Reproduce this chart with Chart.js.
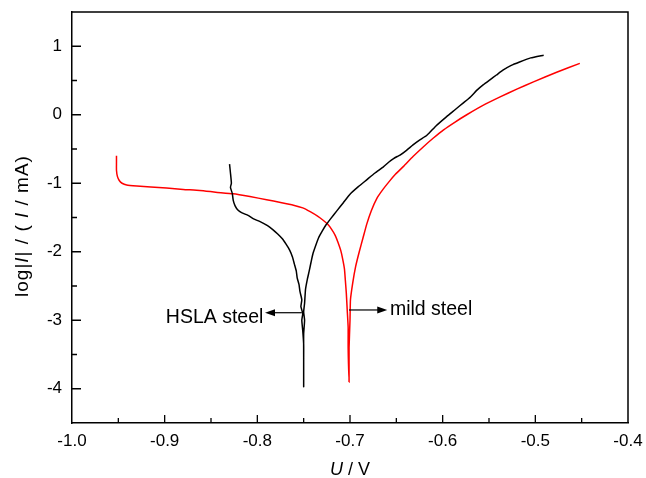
<!DOCTYPE html>
<html>
<head>
<meta charset="utf-8">
<script src="https://cdn.jsdelivr.net/npm/chart.js@4"></script>
<style>
  html, body { margin: 0; padding: 0; background: #fff; }
</style>
</head>
<body>
<canvas id="tafel" width="646" height="478"></canvas>
<script>
// Polarization curves: U in V, log|I| with I in mA
var hslaU = [
  -0.830, -0.829, -0.828, -0.829, -0.827, -0.826, -0.824, -0.821, -0.817, -0.810,
  -0.804, -0.797, -0.789, -0.783, -0.778, -0.773, -0.769, -0.765, -0.762, -0.760,
  -0.758, -0.757, -0.755, -0.754, -0.752, -0.753, -0.751, -0.752, -0.751, -0.750,
  -0.750, -0.750,
  -0.750, -0.750, -0.749, -0.750, -0.749, -0.748, -0.746, -0.744, -0.742, -0.740,
  -0.737, -0.734, -0.730, -0.726, -0.721, -0.714, -0.707, -0.700, -0.691, -0.682,
  -0.673, -0.664, -0.658, -0.653, -0.649, -0.646, -0.639, -0.632, -0.625, -0.617,
  -0.607, -0.596, -0.587, -0.578, -0.570, -0.563, -0.556, -0.549, -0.542, -0.535,
  -0.526, -0.517, -0.505, -0.491
];
var hslaLogI = [
  -0.72, -0.85, -1.00, -1.06, -1.15, -1.25, -1.33, -1.39, -1.43, -1.47,
  -1.52, -1.56, -1.62, -1.68, -1.74, -1.81, -1.89, -1.98, -2.08, -2.18,
  -2.28, -2.38, -2.48, -2.58, -2.70, -2.80, -2.90, -3.00, -3.15, -3.35,
  -3.60, -3.97,
  -3.50, -3.20, -3.00, -2.88, -2.75, -2.55, -2.40, -2.28, -2.15, -2.03,
  -1.91, -1.80, -1.70, -1.61, -1.52, -1.40, -1.28, -1.16, -1.05, -0.95,
  -0.85, -0.76, -0.69, -0.64, -0.61, -0.59, -0.52, -0.44, -0.37, -0.30,
  -0.16, -0.03, 0.07, 0.17, 0.26, 0.36, 0.44, 0.51, 0.58, 0.65,
  0.72, 0.77, 0.83, 0.87
];

var mildU = [
  -0.952, -0.952, -0.952, -0.951, -0.949, -0.946, -0.941, -0.930, -0.915, -0.898,
  -0.880, -0.862, -0.845, -0.826, -0.808, -0.790, -0.775, -0.761, -0.751, -0.743,
  -0.735, -0.729, -0.724, -0.720, -0.716, -0.713, -0.710, -0.708, -0.706, -0.705,
  -0.704, -0.703, -0.702, -0.702, -0.701,
  -0.701, -0.700, -0.6995, -0.697, -0.694, -0.690, -0.686, -0.682, -0.677, -0.671,
  -0.665, -0.658, -0.651, -0.642, -0.632, -0.621, -0.610, -0.599, -0.587, -0.574,
  -0.556, -0.538, -0.520, -0.502, -0.477, -0.452
];
var mildLogI = [
  -0.60, -0.70, -0.81, -0.90, -0.96, -1.00, -1.025, -1.04, -1.055, -1.07,
  -1.09, -1.105, -1.13, -1.155, -1.195, -1.24, -1.28, -1.32, -1.36, -1.415,
  -1.48, -1.54, -1.60, -1.67, -1.76, -1.86, -1.98, -2.10, -2.25, -2.42,
  -2.60, -2.85, -3.10, -3.40, -3.90,
  -3.40, -3.00, -2.70, -2.45, -2.22, -2.00, -1.80, -1.60, -1.40, -1.22,
  -1.10, -0.98, -0.87, -0.75, -0.61, -0.47, -0.34, -0.22, -0.11, 0.00,
  0.14, 0.26, 0.375, 0.48, 0.62, 0.75
];

var uMin = -1.0, uMax = -0.4, uStep = 0.1;
var logMin = -4.5, logMax = 1.5;
var logTicks = [-4, -3, -2, -1, 0, 1];

function toPoints(xs, ys) {
  return xs.map(function (u, i) { return { x: u, y: ys[i] }; });
}

// labels with arrows pointing away from the curves
var notes = [
  { text: 'HSLA steel', from: [-0.752, -2.89], to: [-0.7917, -2.89], at: [-0.7935, -3.045], align: 'right' },
  { text: 'mild steel', from: [-0.7011, -2.85], to: [-0.6598, -2.85], at: [-0.6569, -2.923], align: 'left' }
];

var FONT = '"Liberation Sans", Arial, Helvetica, sans-serif';

function drawPieces(ctx, pieces, size) {
  var w = 0;
  pieces.forEach(function (p) {
    ctx.font = (p[1] ? 'italic ' : '') + size + 'px ' + FONT;
    w += ctx.measureText(p[0]).width;
  });
  var x = -w / 2;
  pieces.forEach(function (p) {
    ctx.font = (p[1] ? 'italic ' : '') + size + 'px ' + FONT;
    ctx.fillText(p[0], x, 0);
    x += ctx.measureText(p[0]).width;
  });
}

var framePlugin = {
  id: 'framePlugin',
  afterDraw: function (chart) {
    var ctx = chart.ctx, a = chart.chartArea;
    var xs = chart.scales.x, ys = chart.scales.y;
    ctx.save();
    ctx.strokeStyle = '#000';
    ctx.fillStyle = '#000';
    ctx.lineWidth = 1.5;
    ctx.beginPath();
    ctx.moveTo(a.left, a.top);
    ctx.lineTo(a.right, a.top);
    ctx.lineTo(a.right, a.bottom);
    ctx.stroke();

    // inward ticks, minor ones halfway
    ctx.lineWidth = 1.3;
    ctx.beginPath();
    var nx = Math.round((uMax - uMin) / (uStep / 2));
    for (var i = 1; i < nx; i++) {
      var px = xs.getPixelForValue(uMin + i * uStep / 2);
      var len = i % 2 === 0 ? 8 : 5;
      ctx.moveTo(px, a.bottom);
      ctx.lineTo(px, a.bottom - len);
    }
    var ny = Math.round((logMax - logMin) / 0.5);
    for (var j = 1; j < ny; j++) {
      var v = logMin + j * 0.5;
      var py = ys.getPixelForValue(v);
      var l2 = Number.isInteger(v) ? 9 : 5;
      ctx.moveTo(a.left, py);
      ctx.lineTo(a.left + l2, py);
    }
    ctx.stroke();

    // axis titles
    ctx.textBaseline = 'alphabetic';
    ctx.textAlign = 'left';
    ctx.save();
    ctx.translate((a.left + a.right) / 2, 475);
    drawPieces(ctx, [['U', true], [' / V', false]], 18);
    ctx.restore();
    ctx.save();
    ctx.translate(28, 226);
    ctx.rotate(-Math.PI / 2);
    ctx.letterSpacing = '1px';
    drawPieces(ctx, [['log|', false], ['I', true], ['| / ( ', false], ['I', true], [' / mA)', false]], 19);
    ctx.restore();

    // annotations
    ctx.lineWidth = 1.2;
    ctx.font = '19.5px ' + FONT;
    notes.forEach(function (n) {
      var x0 = xs.getPixelForValue(n.from[0]), y0 = ys.getPixelForValue(n.from[1]);
      var x1 = xs.getPixelForValue(n.to[0]), y1 = ys.getPixelForValue(n.to[1]);
      var dir = x1 > x0 ? 1 : -1;
      ctx.beginPath();
      ctx.moveTo(x0, y0);
      ctx.lineTo(x1 - dir * 8, y1);
      ctx.stroke();
      ctx.beginPath();
      ctx.moveTo(x1, y1);
      ctx.lineTo(x1 - dir * 10, y1 - 3.5);
      ctx.lineTo(x1 - dir * 10, y1 + 3.5);
      ctx.closePath();
      ctx.fill();
      ctx.textAlign = n.align;
      ctx.fillText(n.text, xs.getPixelForValue(n.at[0]), ys.getPixelForValue(n.at[1]));
    });
    ctx.restore();
  }
};

var tickFont = { family: FONT, size: 17 };

new Chart(document.getElementById('tafel').getContext('2d'), {
  type: 'scatter',
  data: {
    datasets: [{
      label: 'HSLA steel',
      data: toPoints(hslaU, hslaLogI),
      showLine: true,
      borderColor: '#000000',
      borderWidth: 1.5,
      pointRadius: 0,
      tension: 0.15
    }, {
      label: 'mild steel',
      data: toPoints(mildU, mildLogI),
      showLine: true,
      borderColor: '#ff0000',
      borderWidth: 1.5,
      pointRadius: 0,
      tension: 0.15
    }]
  },
  options: {
    responsive: false,
    animation: false,
    devicePixelRatio: 1,
    layout: { padding: { left: 0, right: 18, top: 12, bottom: 0 } },
    plugins: { legend: { display: false }, tooltip: { enabled: false } },
    scales: {
      x: {
        type: 'linear',
        position: 'bottom',
        min: uMin,
        max: uMax,
        grid: { display: false, drawTicks: false },
        border: { display: true, color: '#000', width: 1.5 },
        ticks: {
          stepSize: uStep,
          includeBounds: false,
          maxRotation: 0,
          autoSkip: false,
          padding: 8,
          color: '#000',
          font: tickFont,
          callback: function (v) { return Number(v).toFixed(1); }
        },
        afterFit: function (s) { s.height = 55; s.paddingLeft = 0; s.paddingRight = 0; }
      },
      y: {
        type: 'linear',
        min: logMin,
        max: logMax,
        grid: { display: false, drawTicks: false },
        border: { display: true, color: '#000', width: 1.5 },
        ticks: {
          padding: 10,
          color: '#000',
          font: tickFont,
          callback: function (v) { return String(v); }
        },
        afterBuildTicks: function (s) {
          s.ticks = logTicks.map(function (v) { return { value: v }; });
        },
        afterFit: function (s) { s.width = 72; s.paddingTop = 0; s.paddingBottom = 0; }
      }
    }
  },
  plugins: [framePlugin]
});
</script>
</body>
</html>
